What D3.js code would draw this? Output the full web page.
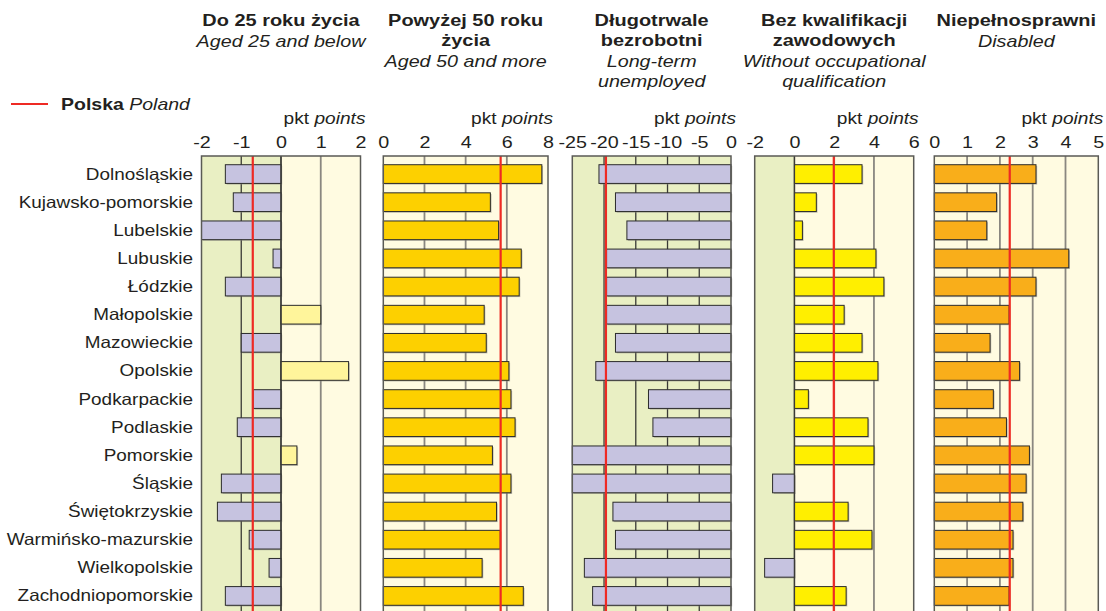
<!DOCTYPE html>
<html><head><meta charset="utf-8">
<script src="https://cdn.jsdelivr.net/npm/d3@7"></script>
<style>body{margin:0;background:#fff}svg{display:block}text{font-family:"Liberation Sans",Arial,Helvetica,sans-serif;fill:#231f20}</style>
</head><body>
<svg id="c" width="1106" height="611"></svg>
<script>
const regions = ["Dolnośląskie","Kujawsko-pomorskie","Lubelskie","Lubuskie","Łódzkie","Małopolskie","Mazowieckie","Opolskie","Podkarpackie","Podlaskie","Pomorskie","Śląskie","Świętokrzyskie","Warmińsko-mazurskie","Wielkopolskie","Zachodniopomorskie"];
const under25 = [-1.4,-1.2,-2.0,-0.2,-1.4,1.0,-1.0,1.7,-0.7,-1.1,0.4,-1.5,-1.6,-0.8,-0.3,-1.4];
const over50 = [7.7,5.2,5.6,6.7,6.6,4.9,5.0,6.1,6.2,6.4,5.3,6.2,5.5,5.68,4.8,6.8];
const longTerm = [-20.8,-18.2,-16.4,-19.6,-19.6,-19.6,-18.2,-21.3,-13.0,-12.3,-25.0,-25.0,-18.6,-18.2,-23.1,-21.8];
const noQualification = [3.4,1.1,0.4,4.1,4.5,2.5,3.4,4.2,0.7,3.7,4.0,-1.1,2.7,3.9,-1.5,2.6];
const disabled = [3.1,1.9,1.6,4.1,3.1,2.28,1.7,2.6,1.8,2.2,2.9,2.8,2.7,2.4,2.4,2.28];
const polandValues = [-0.71,5.7,-19.7,1.98,2.3];
const domains = [[-2,2],[0,8],[-25,0],[-2,6],[0,5]];
const tickValues = [[-2,-1,0,1,2],[0,2,4,6,8],[-25,-20,-15,-10,-5,0],[-2,0,2,4,6],[0,1,2,3,4,5]];
const titlesPL = [["Do 25 roku życia"],["Powyżej 50 roku","życia"],["Długotrwale","bezrobotni"],["Bez kwalifikacji","zawodowych"],["Niepełnosprawni"]];
const titlesEN = [["Aged 25 and below"],["Aged 50 and more"],["Long-term","unemployed"],["Without occupational","qualification"],["Disabled"]];
const unitPL = "pkt", unitEN = "points";
const legendPL = "Polska", legendEN = "Poland";

const series = [under25, over50, longTerm, noQualification, disabled];
const posColors = ["#fff59b","#fdd000","#fdd000","#ffef00","#f9ae1a"];
const negColor = "#c6c3e0";
const panelX = [[201.5,360.5],[383.3,548],[572.3,731],[754.7,913.7],[934.3,1098.3]];
const SX = 1.16;

const svg = d3.select("#c");
const y = d3.scaleBand().domain(regions).range([160,610]).paddingInner(0.335).paddingOuter(0.1675);
const topY = 156, bottomY = 625;

function stext(g, x, y0, anchor, size, weight, style, str){
  const t = g.append("text").attr("transform",`translate(${x},${y0}) scale(${SX},1)`)
    .attr("text-anchor",anchor).style("font-size",size+"px");
  if(weight) t.style("font-weight",weight);
  if(style) t.style("font-style",style);
  t.text(str);
  return t;
}

// region labels
regions.forEach(r=>{
  stext(svg, 193, y(r)+y.bandwidth()/2+5.5, "end", 16.3, null, null, r);
});

// legend
svg.append("line").attr("x1",11).attr("x2",48).attr("y1",104).attr("y2",104).attr("stroke","#ee2a24").attr("stroke-width",2);
{
  const t = svg.append("text").attr("transform",`translate(61,110) scale(${SX},1)`).style("font-size","16.8px");
  t.append("tspan").style("font-weight","bold").text(legendPL+" ");
  t.append("tspan").style("font-style","italic").text(legendEN);
}

series.forEach((vals,i)=>{
  const [x0,x1] = panelX[i];
  const x = d3.scaleLinear().domain(domains[i]).range([x0,x1]);
  const g = svg.append("g");
  const cx = (x0+x1)/2;
  // titles
  let ty = 26;
  titlesPL[i].forEach(s=>{ stext(g,cx,ty,"middle",17.2,"bold",null,s); ty+=20; });
  titlesEN[i].forEach(s=>{ stext(g,cx,ty+1,"middle",17,null,"italic",s); ty+=20; });
  // unit
  {
    const t = g.append("text").attr("transform",`translate(${x1+5},124) scale(${SX},1)`).attr("text-anchor","end").style("font-size","16.5px");
    t.append("tspan").text(unitPL+" ");
    t.append("tspan").style("font-style","italic").text(unitEN);
  }
  // axis
  const ax = g.append("g").attr("transform",`translate(0,${topY})`)
    .call(d3.axisTop(x).tickValues(tickValues[i]).tickSize(0).tickPadding(8).tickFormat(d=>String(d)));
  ax.select(".domain").remove();
  ax.selectAll(".tick text").attr("transform",`scale(${SX},1)`).attr("y",-8)
    .style("font-size","17px").style("font-family","'Liberation Sans',Arial,sans-serif").attr("fill","#231f20");
  // backgrounds
  const d0 = domains[i][0], d1 = domains[i][1];
  if(d0<0) g.append("rect").attr("x",x(d0)).attr("y",topY).attr("width",x(Math.min(0,d1))-x(d0)).attr("height",bottomY-topY).attr("fill","#e9efc3");
  if(d1>0) g.append("rect").attr("x",x(Math.max(0,d0))).attr("y",topY).attr("width",x(d1)-x(Math.max(0,d0))).attr("height",bottomY-topY).attr("fill","#fffbe1");
  // grid
  tickValues[i].filter(v=>v>d0 && v<d1).forEach(v=>{
    g.append("line").attr("x1",x(v)).attr("x2",x(v)).attr("y1",topY).attr("y2",bottomY)
      .attr("stroke", v<=0 ? "#3a3a36" : "#8a8780").attr("stroke-width", v<=0 ? 1.3 : 1.8);
  });
  // bars shadow
  g.selectAll("rect.sh").data(vals).join("rect").attr("class","sh")
    .attr("x",d=>Math.min(x(0),x(d))+1.2).attr("y",(d,j)=>y(regions[j])+1.2)
    .attr("width",d=>Math.abs(x(d)-x(0))).attr("height",y.bandwidth())
    .attr("fill","#8c8a84").attr("opacity",0.55);
  g.selectAll("rect.bar").data(vals).join("rect").attr("class","bar")
    .attr("x",d=>Math.min(x(0),x(d))).attr("y",(d,j)=>y(regions[j]))
    .attr("width",d=>Math.abs(x(d)-x(0))).attr("height",y.bandwidth())
    .attr("fill",d=>d<0?negColor:posColors[i]).attr("stroke","#2b2b2b").attr("stroke-width",1);
  // zero line
  if(d0<0 && d1>0) g.append("line").attr("x1",x(0)).attr("x2",x(0)).attr("y1",topY).attr("y2",bottomY).attr("stroke","#3a3a36").attr("stroke-width",1.3);
  // poland line
  g.append("line").attr("x1",x(polandValues[i])).attr("x2",x(polandValues[i])).attr("y1",topY).attr("y2",bottomY).attr("stroke","#ee2a24").attr("stroke-width",2.2);
  // frame
  g.append("rect").attr("x",x0).attr("y",topY).attr("width",x1-x0).attr("height",bottomY-topY).attr("fill","none").attr("stroke","#5a5a55").attr("stroke-width",1.5);
});
</script>
</body></html>
